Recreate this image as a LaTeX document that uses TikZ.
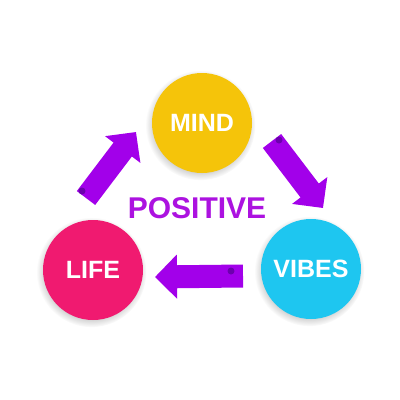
\documentclass[tikz,border=0pt]{standalone}
\usepackage{fontspec}
\setmainfont{Liberation Sans}
\usepackage{xcolor}
\usetikzlibrary{arrows.meta, shadows, calc, math}
\definecolor{myyellow}{RGB}{245, 196, 10}
\definecolor{mypink}{RGB}{240, 26, 112}
\definecolor{mycyan}{RGB}{30, 198, 240}
\definecolor{mypurple}{RGB}{162, 0, 234}
\definecolor{mytext}{RGB}{172, 18, 224}
\definecolor{mycurl}{RGB}{95, 0, 160}

\tikzset{
  bubble/.style={circle, minimum size=100pt, inner sep=0pt, text=white,
    font=\bfseries\fontsize{25}{25}\selectfont,
    circular drop shadow={shadow xshift=-1.5pt, shadow yshift=-2pt, opacity=0.35}},
  bigarrow/.style={draw=mypurple, line width=23pt,
    -{Triangle[width=43pt, length=22pt]}},
  curl/.style={fill=mycurl, opacity=0.8},
}

\begin{document}
\begin{tikzpicture}[x=1pt, y=-1pt]
\fill[white] (0,0) rectangle (400,400);
\useasboundingbox (0,0) rectangle (400,400);

\node[bubble, fill=myyellow] (mind) at (202,123) {MIND};
\node[bubble, fill=mypink] (life) at (93,270) {LIFE};
\node[bubble, fill=mycyan] (vibes) at (311,269) {VIBES};
\node[text=mytext, font=\bfseries\fontsize{30}{30}\selectfont] (positive) at (197,208) {POSITIVE};

\coordinate (lm-tail) at ($(life)+(-7,-72)$);
\coordinate (lm-tip) at ($(mind)+(-66,9)$);
\coordinate (mv-tail) at ($(mind)+(70,18)$);
\coordinate (mv-tip) at ($(vibes)+(12,-61)$);
\coordinate (vl-tail) at ($(vibes)+(-68,7)$);
\coordinate (vl-tip) at ($(life)+(62,7)$);

\draw[bigarrow] (lm-tail) -- (lm-tip);
\draw[bigarrow] (mv-tail) -- (mv-tip);
\draw[bigarrow] (vl-tail) -- (vl-tip);

% curled tail ends
\fill[curl] ($(lm-tail)+(-4,-7)$) circle (3.5);
\fill[curl] ($(mv-tail)+(7,-1)$) circle (3.5);
\fill[curl] ($(vl-tail)+(-12,-5)$) circle (3.5);

\end{tikzpicture}
\end{document}
